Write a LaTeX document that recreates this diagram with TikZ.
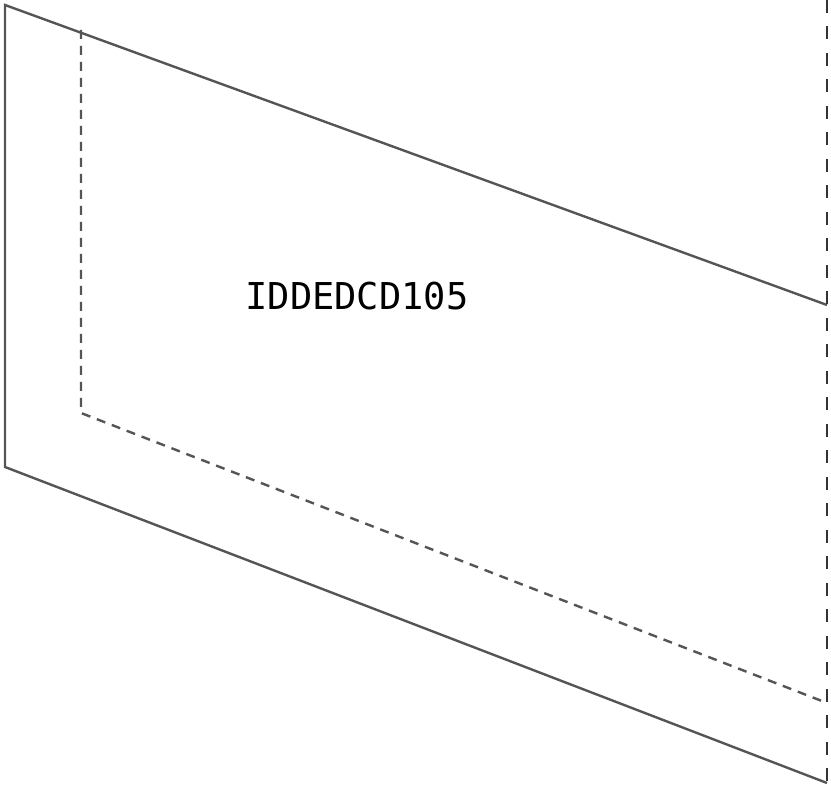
\documentclass[tikz,border=0pt]{standalone}
\usepackage{fontspec}
\newfontfamily\monofont{DejaVu Sans Mono}
\definecolor{edge}{HTML}{555555}
\definecolor{rightedge}{HTML}{333333}
\begin{document}
\begin{tikzpicture}[x=1pt,y=1pt,
  solidedge/.style={draw=edge,line width=2.4pt},
  inneredge/.style={draw=edge,line width=2.4pt,dash pattern=on 9pt off 7pt},
  rightline/.style={draw=rightedge,line width=2.2pt,dash pattern=on 13pt off 13.5pt}]
\useasboundingbox (0,0) rectangle (831,787);
\coordinate (tl) at (5,782);
\coordinate (bl) at (5,320);
\coordinate (tr) at (827,482);
\coordinate (br) at (827,4);
\coordinate (itl) at (81,757);
\coordinate (ibl) at (81,374);
\coordinate (ibr) at (827,84);
\coordinate (rtop) at (827,787);
\draw[solidedge] (tr) -- (tl) -- (bl) -- (br);
\draw[inneredge] (itl) -- (ibl) -- (ibr);
\draw[rightline] (rtop) -- (br);
\node (label) at (357,491) {\monofont\fontsize{37}{40}\selectfont IDDEDCD105};
\end{tikzpicture}
\end{document}
